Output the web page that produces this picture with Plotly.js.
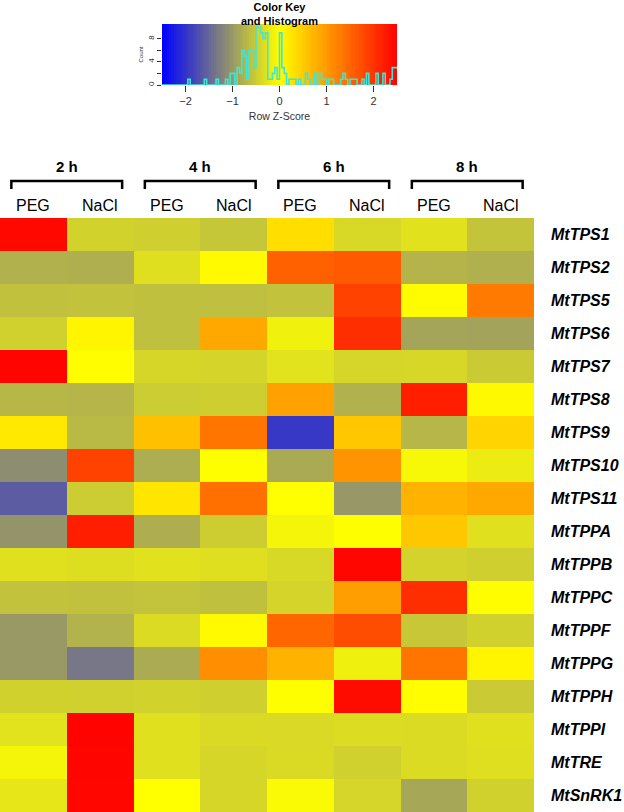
<!DOCTYPE html>
<html>
<head>
<meta charset="utf-8">
<script src="https://cdn.plot.ly/plotly-3.0.1.min.js"></script>
<style>html,body{margin:0;padding:0;background:#fff;}#chart{width:624px;height:812px;}</style>
</head>
<body>
<div id="chart"></div>
<script>
// ---- data (row Z-scores) ----
const rowLabels = ['MtTPS1','MtTPS2','MtTPS5','MtTPS6','MtTPS7','MtTPS8','MtTPS9','MtTPS10','MtTPS11',
                   'MtTPPA','MtTPPB','MtTPPC','MtTPPF','MtTPPG','MtTPPH','MtTPPI','MtTRE','MtSnRK1'];
const colLabels = ['PEG','NaCl','PEG','NaCl','PEG','NaCl','PEG','NaCl'];
const groupLabels = ['2 h','4 h','6 h','8 h'];
const keyTicks = [-2,-1,0,1,2];

const peg2h  = [2.42,-0.76,-0.61,-0.46,2.46,-0.71,0.22,-1.12,-1.6,-1.05,-0.3,-0.6,-1.0,-1.0,-0.45,-0.28,-0.1,-0.25];
const nacl2h = [-0.44,-0.78,-0.6,0.1,0.02,-0.73,-0.69,1.85,-0.5,2.2,-0.32,-0.61,-0.75,-1.33,-0.46,2.47,2.45,2.43];
const peg4h  = [-0.47,-0.31,-0.62,-0.62,-0.4,-0.5,0.62,-0.8,0.25,-0.79,-0.29,-0.59,-0.35,-0.82,-0.44,-0.3,-0.3,0.0];
const nacl4h = [-0.56,0.05,-0.63,0.85,-0.42,-0.48,1.35,0.01,1.4,-0.49,-0.31,-0.62,0.05,1.1,-0.47,-0.36,-0.4,-0.4];
const peg6h  = [0.32,1.55,-0.6,-0.14,-0.28,0.92,-1.95,-0.83,0.0,-0.1,-0.38,-0.42,1.5,0.75,0.01,-0.37,-0.36,-0.05];
const nacl6h = [-0.38,1.62,1.85,2.05,-0.41,-0.76,0.55,1.05,-1.02,0.01,2.44,0.95,1.75,-0.15,2.38,-0.34,-0.46,-0.41];
const peg8h  = [-0.29,-0.74,0.04,-0.88,-0.39,2.2,-0.72,-0.08,0.75,0.55,-0.43,2.05,-0.55,1.35,0.02,-0.35,-0.35,-0.86];
const nacl8h = [-0.58,-0.77,1.3,-0.9,-0.52,0.06,0.42,-0.19,0.85,-0.3,-0.47,0.02,-0.45,0.1,-0.52,-0.3,-0.31,-0.45];

// ---- build ----
const cols = [peg2h,nacl2h,peg4h,nacl4h,peg6h,nacl6h,peg8h,nacl8h];
const z = rowLabels.map((_, r) => cols.map(c => c[r]));
const xIdx = colLabels.map((_, i) => i);
const yIdx = rowLabels.map((_, i) => i);

const zMin = -2.5, zMax = 2.5, binW = 0.05;
const colorscale = [[0,'rgb(0,0,255)'],[0.5,'rgb(255,255,0)'],[1,'rgb(255,0,0)']];

// histogram of all values (step line, as in heatmap.2)
const nBins = Math.round((zMax - zMin) / binW);
const breaks = [], mids = [], counts = new Array(nBins).fill(0);
for (let i = 0; i <= nBins; i++) breaks.push(+(zMin + i * binW).toFixed(4));
for (let i = 0; i < nBins; i++) mids.push((breaks[i] + breaks[i + 1]) / 2);
z.flat().forEach(v => {
  let b = Math.floor((v - zMin) / binW + 1e-9);
  if (b >= nBins) b = nBins - 1; if (b < 0) b = 0;
  counts[b]++;
});
const stepY = counts.concat([counts[counts.length - 1]]);
const yMax = Math.max(...counts) / 0.95;

const W = 624, H = 812;
const px = v => v / W, py = v => 1 - v / H;
const FONT = 'Liberation Sans, Arial, sans-serif';

const traces = [
  { type:'heatmap', x:xIdx, y:yIdx, z:z, zmin:zMin, zmax:zMax, colorscale:colorscale,
    showscale:false, xaxis:'x', yaxis:'y', hoverinfo:'skip' },
  { type:'heatmap', x:breaks, y:[0, yMax], z:[mids], zmin:zMin, zmax:zMax, colorscale:colorscale,
    showscale:false, xaxis:'x2', yaxis:'y2', hoverinfo:'skip' },
  { type:'scatter', mode:'lines', x:breaks, y:stepY, line:{shape:'hv', color:'#3fe6d6', width:1.6},
    xaxis:'x2', yaxis:'y2', hoverinfo:'skip', showlegend:false }
];

const annotations = [];
rowLabels.forEach((lab, i) => annotations.push({
  xref:'paper', yref:'y', x:px(549), y:i, xanchor:'left', yanchor:'middle', showarrow:false,
  text:'<b><i>' + lab + '</i></b>', font:{family:FONT, size:16, color:'#000'}
}));
colLabels.forEach((lab, i) => annotations.push({
  xref:'x', yref:'paper', x:i, y:py(205), xanchor:'center', yanchor:'middle', showarrow:false,
  text:lab, font:{family:FONT, size:16, color:'#000'}
}));
const shapes = [];
groupLabels.forEach((lab, g) => {
  const c = 2 * g + 0.5;
  annotations.push({
    xref:'x', yref:'paper', x:c, y:py(166), xanchor:'center', yanchor:'middle', showarrow:false,
    text:'<b>' + lab + '</b>', font:{family:FONT, size:15, color:'#000'}
  });
  const x0 = c - 0.83, x1 = c + 0.83;
  shapes.push({ type:'path', xref:'x', yref:'paper',
    path:`M ${x0},${py(189)} L ${x0},${py(181)} L ${x1},${py(181)} L ${x1},${py(189)}`,
    line:{color:'#000', width:2.5} });
});
annotations.push({
  xref:'paper', yref:'paper', x:px(279), y:py(14), xanchor:'center', yanchor:'middle', showarrow:false,
  text:'<b>Color Key<br>and Histogram</b>', font:{family:FONT, size:11, color:'#000'}
});

const layout = {
  width:W, height:H, margin:{l:0, r:0, t:0, b:0}, paper_bgcolor:'#fff', plot_bgcolor:'#fff',
  showlegend:false,
  xaxis:{ domain:[0, px(534)], range:[-0.5, 7.5], showticklabels:false, showgrid:false, zeroline:false, ticks:'', fixedrange:true },
  yaxis:{ domain:[0, py(218)], range:[17.5, -0.5], showticklabels:false, showgrid:false, zeroline:false, ticks:'', fixedrange:true },
  xaxis2:{ domain:[px(162), px(397)], anchor:'y2', range:[zMin, zMax], tickvals:keyTicks,
    ticks:'outside', ticklen:6, tickcolor:'#333', showgrid:false, zeroline:false, showline:false,
    tickfont:{family:FONT, size:11, color:'#333'},
    title:{text:'Row Z-Score', standoff:6, font:{family:FONT, size:10.5, color:'#333'}} },
  yaxis2:{ domain:[py(85), py(24)], anchor:'x2', range:[0, yMax], tickvals:[0,2,4,6,8], ticktext:['0','','4','','8'],
    ticks:'outside', ticklen:4, tickcolor:'#333', tickangle:-90, showgrid:false, zeroline:false,
    tickfont:{family:FONT, size:8, color:'#333'},
    title:{text:'Count', standoff:2, font:{family:FONT, size:6, color:'#333'}} },
  annotations:annotations, shapes:shapes
};

Plotly.newPlot('chart', traces, layout, {staticPlot:true, displayModeBar:false});
</script>
</body>
</html>
